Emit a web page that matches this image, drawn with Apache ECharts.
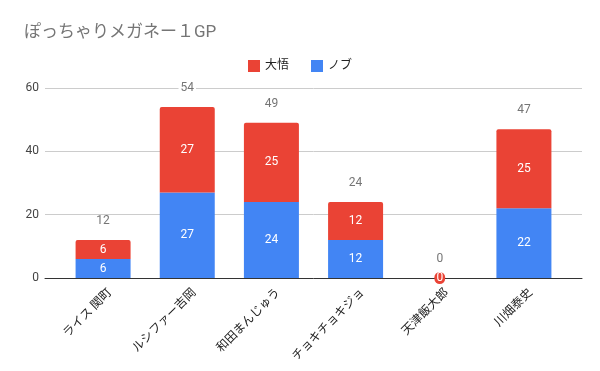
<!DOCTYPE html>
<html><head><meta charset="utf-8">
<script src="https://cdn.jsdelivr.net/npm/echarts@6/dist/echarts.min.js"></script>
<style>html,body{margin:0;padding:0;background:#fff}#c{width:600px;height:371px}</style>
</head><body><div id="c"></div>
<script>
const categories = ['ライス 関町','ルシファー吉岡','和田まんじゅう','チョキチョキジョ','天津飯大郎','川畑泰史'];
const seriesNames = ['大悟','ノブ'];
const daigo = [6, 27, 25, 12, 0, 25];
const nobu = [6, 27, 24, 12, 0, 22];
const yTicks = [0, 20, 40, 60];
const totals = categories.map((c, i) => daigo[i] + nobu[i]);
const FONT = "Roboto, 'Noto Sans CJK JP', sans-serif";
const RED = '#EA4335', BLUE = '#4285F4';

function items(arr, color, zeroBadge) {
  return arr.map(v => {
    if (v === 0 && zeroBadge) {
      return { value: v, label: { show: true, position: 'inside', color: '#fff', backgroundColor: color, borderRadius: 6, padding: [0, 2], fontSize: 12 } };
    }
    if (v === 0) return { value: v, label: { show: false } };
    return v;
  });
}

const chart = echarts.init(document.getElementById('c'));
chart.setOption({
  animation: false,
  textStyle: { fontFamily: FONT },
  title: { text: 'ぽっちゃりメガネー１GP', left: 19, top: 19, textStyle: { fontSize: 17, fontWeight: 'normal', color: '#757575', fontFamily: FONT } },
  legend: { data: seriesNames, top: 55, left: 'center', itemWidth: 12, itemHeight: 12, itemGap: 22, icon: 'rect', textStyle: { fontSize: 12, color: '#222', fontFamily: FONT } },
  grid: [
    { left: 45, right: 18, top: 88, bottom: 93 },
    { left: 61, right: 34, top: 88, bottom: 93 },
    { left: 68, right: 27, top: 88, bottom: 93 }
  ],
  xAxis: [
    { gridIndex: 0, type: 'category', data: categories, axisTick: { show: false }, axisLabel: { show: false },
      axisLine: { lineStyle: { color: '#333' } }, z: 0 },
    { gridIndex: 1, type: 'category', data: categories, axisTick: { show: false }, axisLine: { show: false }, axisLabel: { show: false } },
    { gridIndex: 2, type: 'category', data: categories, axisTick: { show: false }, axisLine: { show: false },
      axisLabel: { rotate: 45, fontSize: 12, color: '#222', interval: 0, margin: 13, fontFamily: FONT } }
  ],
  yAxis: [
    { gridIndex: 0, type: 'value', min: yTicks[0], max: yTicks[yTicks.length - 1], interval: 20,
      axisLine: { show: false }, axisTick: { show: false },
      splitLine: { lineStyle: { color: '#ccc' } },
      axisLabel: { fontSize: 12, color: '#444', margin: 6, fontFamily: FONT } },
    { gridIndex: 1, type: 'value', min: yTicks[0], max: yTicks[yTicks.length - 1], interval: 20, show: false, splitLine: { show: false } },
    { gridIndex: 2, type: 'value', min: yTicks[0], max: yTicks[yTicks.length - 1], interval: 20, show: false, splitLine: { show: false } }
  ],
  series: [
    { name: seriesNames[1], type: 'bar', xAxisIndex: 1, yAxisIndex: 1, stack: 's', barWidth: 55, data: items(nobu, BLUE, false), itemStyle: { color: BLUE },
      label: { show: true, position: 'inside', color: '#fff', fontSize: 12 } },
    { name: seriesNames[0], type: 'bar', xAxisIndex: 1, yAxisIndex: 1, stack: 's', barWidth: 55, data: items(daigo, RED, true), itemStyle: { color: RED, borderRadius: [2, 2, 0, 0] },
      label: { show: true, position: 'inside', color: '#fff', fontSize: 12 } },
    { name: 'total', type: 'bar', xAxisIndex: 1, yAxisIndex: 1, barWidth: 55, barGap: '-100%', data: totals, itemStyle: { color: 'rgba(0,0,0,0)' }, silent: true,
      label: { show: true, position: 'top', distance: 13, color: '#757575', fontSize: 12, backgroundColor: '#fff', padding: [0, 2] }, z: 1 }
  ]
});
</script></body></html>
